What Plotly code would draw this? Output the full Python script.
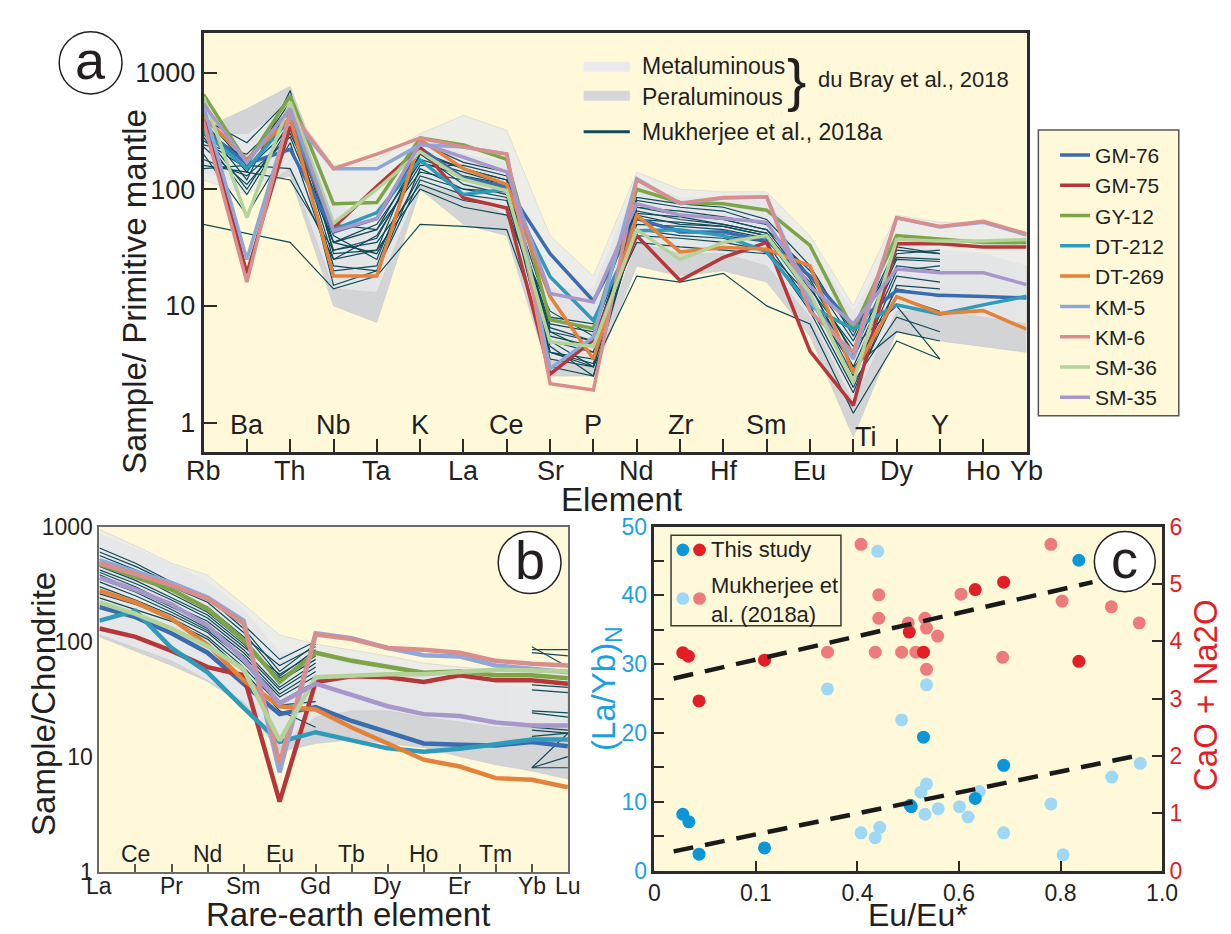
import plotly.graph_objects as go

W, H = 1231, 934
FONT = "Liberation Sans, Arial, sans-serif"
TXT = "#231F20"
BG = "#FFF9DA"

# ---------------- data: panel a (primitive-mantle normalised) ----------------
elements_a = ["Rb", "Ba", "Th", "Nb", "Ta", "K", "La", "Ce", "Sr", "P",
              "Nd", "Zr", "Hf", "Sm", "Eu", "Ti", "Dy", "Y", "Ho", "Yb"]
elements_a_top = ["Ba", "Nb", "K", "Ce", "P", "Zr", "Sm", "Ti", "Y"]

samples = ["GM-76", "GM-75", "GY-12", "DT-212", "DT-269", "KM-5", "KM-6", "SM-36", "SM-35"]
sample_colors = ["#3A6DB0", "#B5373A", "#7DA446", "#2F9BBA", "#E5823A",
                 "#8EA9D9", "#D98E8E", "#B3D39A", "#A797CB"]

a_GM76 = [330, 165, 220, 43, 56, 225, 125, 105, 28, 11, 56, 43, 43, 36, 18, 6.8, 13.5, 12.3, 12, 11.7]
a_GM75 = [470, 19, 345, 47, 106, 228, 84, 69, 2.6, 5.1, 40, 16.5, 26, 35, 4.1, 1.4, 34, 34, 32, 32]
a_GY12 = [650, 170, 630, 75, 77, 275, 240, 180, 7.6, 6.4, 100, 77, 75, 66, 33, 6.2, 40, 37.6, 35, 34.8]
a_DT212 = [310, 150, 400, 45, 63, 178, 90, 100, 17.8, 7.5, 44, 45, 40, 29, 10, 6.3, 10.2, 8.5, 10.2, 12.1]
a_DT269 = [420, 180, 406, 18, 18, 266, 150, 110, 12, 3.5, 60, 29, 31.6, 30.6, 22, 2.65, 12, 8.6, 9.1, 6.3]
a_KM5 = [520, 25, 430, 150, 150, 240, 230, 200, 2.9, 5.4, 123, 75, 84, 86, 11, 3.5, 57, 47.5, 52, 40.5]
a_KM6 = [380, 16, 470, 150, 200, 275, 230, 200, 2.15, 1.9, 120, 76, 85, 86, 9, 4, 57, 48, 53, 41.5]
a_SM36 = [620, 57, 560, 51, 100, 210, 121, 97, 4.9, 4.5, 45, 25, 35, 40, 12.8, 2.2, 37, 36, 36, 37]
a_SM35 = [540, 170, 490, 44, 56, 250, 188, 141, 12.8, 10.8, 75, 60, 56, 52, 14.7, 7, 20.7, 19.2, 19.2, 15.2]

# du Bray et al. (2018) fields, panel a
a_meta_hi = [300, 300, 520, 160, 180, 300, 430, 320, 40, 18, 140, 100, 95, 95, 40, 10, 60, 52, 52, 42]
a_meta_lo = [120, 90, 150, 14, 13, 110, 90, 60, 3.5, 3, 35, 28, 28, 22, 8, 1.5, 9, 9, 8, 7]
a_pera_hi = [330, 490, 760, 80, 45, 280, 200, 170, 14, 14, 110, 85, 85, 80, 30, 9, 35, 30, 28, 22]
a_pera_lo = [140, 110, 130, 10, 7.2, 100, 50, 40, 2.5, 2.5, 22, 18, 20, 16, 5.5, 0.75, 6, 5, 4.5, 4]

# Mukherjee et al. (2018a), Rb ... Y
a_muk = [
    [420, 160, 560, 35, 45, 200, 150, 120, 5, 4, 70, 60, 55, 45, 15, 3, 20, 22],
    [380, 140, 480, 30, 38, 180, 140, 110, 4, 3.5, 65, 55, 50, 42, 13, 2.5, 18, 16],
    [350, 120, 700, 28, 30, 230, 120, 100, 6, 5, 60, 50, 48, 40, 16, 4, 25, 24],
    [320, 180, 420, 25, 40, 160, 160, 130, 3.5, 3, 80, 70, 65, 50, 18, 5, 30, 28],
    [300, 100, 380, 40, 25, 200, 110, 90, 7, 6, 55, 45, 40, 35, 10, 2, 12, 9],
    [280, 90, 350, 22, 20, 150, 100, 85, 4.5, 2.5, 50, 48, 45, 38, 12, 3.5, 22, 20],
    [260, 150, 330, 35, 50, 170, 130, 110, 8, 7, 75, 60, 55, 45, 20, 6, 26, 25],
    [240, 200, 450, 15, 20, 120, 90, 80, 5, 3, 45, 40, 38, 30, 9, 1.8, 15, 14],
    [230, 110, 300, 50, 45, 140, 120, 100, 3, 2.5, 62, 58, 50, 42, 14, 4.5, 10, 3.5],
    [160, 140, 120, 30, 35, 110, 80, 70, 6, 4, 40, 38, 35, 30, 12, 2.2, 8, 6],
    [150, 160, 150, 25, 30, 100, 70, 60, 9, 5.5, 35, 32, 30, 28, 11, 3, 6, 5],
    [50, 42, 35, 14, 18, 50, 48, 45, 4, 3, 18, 16, 19, 10, 7, 1.2, 5, 3.5],
    [200, 60, 250, 20, 22, 210, 150, 120, 5.5, 4.5, 70, 65, 58, 50, 17, 3.8, 28, 30],
    [400, 250, 600, 45, 55, 250, 170, 140, 4, 3.2, 85, 75, 70, 55, 22, 5.5, 32, 28],
    [180, 130, 280, 35, 28, 130, 100, 95, 6.5, 5, 55, 52, 48, 40, 15, 2.8, 14, 12],
]

# ---------------- data: panel b (chondrite normalised REE) ----------------
ree_b = ["La", "Ce", "Pr", "Nd", "Sm", "Eu", "Gd", "Tb", "Dy", "Ho", "Er", "Tm", "Yb", "Lu"]
ree_b_top = ["Ce", "Nd", "Eu", "Tb", "Ho", "Tm"]

b_GM76 = [200, 163, 118, 80, 43, 23.4, 27, 20.4, 16.3, 13, 12.7, 12.5, 13.4, 12.3]
b_GM75 = [130, 110, 83, 60, 51, 4.06, 44.6, 50, 49, 44.6, 51, 46, 46, 43]
b_GY12 = [470, 366, 283, 192, 103, 44.6, 80, 68, 60, 53.5, 55, 51, 51, 48]
b_DT212 = [152, 185, 88, 54, 26.5, 13.4, 16.3, 13.8, 11.8, 11, 11.7, 12.8, 14.1, 14.1]
b_DT269 = [277, 219, 158, 94, 46, 27.4, 25.7, 17.9, 13, 9.4, 8.2, 6.5, 6.3, 5.4]
b_KM5 = [507, 404, 323, 242, 152, 7.3, 118, 107, 88, 76, 74, 62, 58.5, 54]
b_KM6 = [480, 390, 310, 235, 145, 8.8, 115, 105, 88, 85, 80, 68, 64, 62]
b_SM36 = [219, 174, 130, 91, 57.6, 13.8, 49, 51, 52, 52, 54, 57, 56, 55]
b_SM35 = [359, 283, 211, 138, 70, 29, 43, 34.5, 27.4, 23.4, 22.5, 19.8, 18.6, 18.6]

b_meta_hi = [945, 680, 480, 378, 211, 114, 95, 85, 75, 65, 60, 57, 55, 55]
b_meta_lo = [114, 88, 68, 46, 30, 12.2, 22, 25, 25, 22, 20, 18, 18, 18]
b_pera_hi = [860, 640, 470, 330, 190, 80, 80, 72, 62, 52, 46, 42, 40, 38]
b_pera_lo = [110, 82, 62, 45, 28, 11, 13, 14, 13, 12, 10, 8.5, 7.5, 6.4]

N = None
b_muk = [
    [650, 480, 330, 240, 130, 55, 95, N, N, N, N, N, 85, 85],
    [560, 420, 300, 220, 120, 50, 85, N, N, N, N, N, 80, 75],
    [520, 400, 280, 200, 110, 62, 90, N, N, N, N, N, 45, 42],
    [480, 380, 260, 180, 100, 48, 75, N, N, N, N, N, 42, 40],
    [450, 340, 240, 170, 95, 45, 70, N, N, N, N, N, 38, 36],
    [420, 320, 230, 160, 90, 52, 80, N, N, N, N, N, 25, 24],
    [400, 300, 210, 150, 85, 40, 65, N, N, N, N, N, 24, 22],
    [380, 280, 200, 140, 80, 38, 60, N, N, N, N, N, 18, 17],
    [350, 270, 190, 130, 75, 35, 55, N, N, N, N, N, 17, 16],
    [330, 250, 180, 125, 70, 33, 50, N, N, N, N, N, 15, 16],
    [300, 230, 170, 120, 65, 30, 45, N, N, N, N, N, 8, 16],
    [260, 210, 160, 110, 60, 28, 30, N, N, N, N, N, 8, 10],
    [240, 190, 150, 105, 55, 25, 18, N, N, N, N, N, 8, 8],
    [600, 450, 320, 230, 140, 70, 100, N, N, N, N, N, 90, 60],
]

# ---------------- data: panel c ----------------
c_study_eu = [0.056, 0.068, 0.088, 0.217, 0.504, 0.506, 0.530, 0.632, 0.688, 0.836]
c_study_layb = [8.2, 7.1, 2.4, 3.3, 9.5, 9.3, 19.4, 10.5, 15.3, 45.1]
c_muk_eu = [0.440, 0.341, 0.487, 0.407, 0.435, 0.444, 0.525, 0.536, 0.536, 0.533,
            0.559, 0.601, 0.618, 0.640, 0.688, 0.781, 0.805, 0.901, 0.957]
c_muk_layb = [46.4, 26.4, 21.9, 5.5, 4.8, 6.3, 11.4, 27.0, 12.6, 8.2,
              9.0, 9.3, 7.8, 11.5, 5.5, 9.7, 2.3, 13.6, 15.6]
c_study_eu2 = [0.056, 0.067, 0.088, 0.217, 0.502, 0.530, 0.632, 0.688, 0.836]
c_study_cana = [3.80, 3.74, 2.96, 3.67, 4.16, 3.81, 4.90, 5.03, 3.65]
c_muk_eu2 = [0.407, 0.442, 0.442, 0.341, 0.435, 0.487, 0.500, 0.515, 0.533, 0.536,
             0.558, 0.536, 0.604, 0.686, 0.781, 0.803, 0.900, 0.955]
c_muk_cana = [5.69, 4.81, 4.40, 3.81, 3.81, 3.81, 4.32, 3.81, 4.40, 4.23,
              4.09, 3.51, 4.82, 3.72, 5.69, 4.70, 4.60, 4.32]
fit_cana_x = [0.038, 0.863]
fit_cana_y = [3.35, 5.03]
fit_layb_x = [0.038, 0.957]
fit_layb_y = [2.8, 16.8]

c_xticks = [0, 0.2, 0.4, 0.6, 0.8, 1.0]
c_xticktext = ["0", "0.1", "0.4", "0.6", "0.8", "1.0"]

# ---------------- helpers ----------------
def px(x):
    return x / W


def py(y):
    return 1 - y / H


def ann(text, x, y, size, color=TXT, xanchor="center", yanchor="middle", angle=0, **kw):
    d = dict(text=text, x=px(x), y=py(y), xref="paper", yref="paper", showarrow=False,
             xanchor=xanchor, yanchor=yanchor, textangle=angle,
             font=dict(family=FONT, size=size, color=color))
    d.update(kw)
    return d


fig = go.Figure()

MUK = "#0E4A58"
META = "#E9EAEC"
PERA = "#D3D4D5"


def band(xs, hi, lo, color, xa, ya, opacity=1.0):
    fig.add_trace(go.Scatter(
        x=list(xs) + list(xs)[::-1], y=list(hi) + list(lo)[::-1],
        fill="toself", fillcolor=color, mode="lines",
        line=dict(color="#C6C7C8", width=0.6), opacity=opacity,
        hoverinfo="skip", showlegend=False, xaxis=xa, yaxis=ya))


# ---- panel a ----
xa_idx = list(range(len(elements_a)))
band(xa_idx, a_pera_hi, a_pera_lo, PERA, "x", "y")
band(xa_idx, a_meta_hi, a_meta_lo, META, "x", "y", opacity=0.8)
for row in a_muk:
    fig.add_trace(go.Scatter(x=xa_idx[:len(row)], y=row, mode="lines",
                             line=dict(color=MUK, width=1.2), showlegend=False,
                             hoverinfo="skip", xaxis="x", yaxis="y"))
a_series = [a_GM76, a_GM75, a_GY12, a_DT212, a_DT269, a_KM5, a_KM6, a_SM36, a_SM35]
for name, col, vals in zip(samples, sample_colors, a_series):
    fig.add_trace(go.Scatter(x=xa_idx, y=vals, mode="lines", name=name,
                             line=dict(color=col, width=3.5), xaxis="x", yaxis="y",
                             showlegend=True))

# ---- panel b ----
xb_idx = list(range(len(ree_b)))
band(xb_idx, b_pera_hi, b_pera_lo, PERA, "x2", "y2")
band(xb_idx, b_meta_hi, b_meta_lo, META, "x2", "y2", opacity=0.85)
for row in b_muk:
    fig.add_trace(go.Scatter(x=xb_idx, y=row, mode="lines", connectgaps=False,
                             line=dict(color=MUK, width=1.2), showlegend=False,
                             hoverinfo="skip", xaxis="x2", yaxis="y2"))
b_series = [b_GM76, b_GM75, b_GY12, b_DT212, b_DT269, b_KM5, b_KM6, b_SM36, b_SM35]
for name, col, vals in zip(samples, sample_colors, b_series):
    fig.add_trace(go.Scatter(x=xb_idx, y=vals, mode="lines", name=name,
                             line=dict(color=col, width=4.5), xaxis="x2", yaxis="y2",
                             showlegend=False))

# ---- panel c ----
DBLUE, LBLUE, DRED, LRED = "#0A96D9", "#9FD8F4", "#E31E26", "#EE7B7C"
fig.add_trace(go.Scatter(x=c_muk_eu2, y=c_muk_cana, mode="markers",
                         marker=dict(color=LRED, size=13), showlegend=False,
                         xaxis="x3", yaxis="y4"))
fig.add_trace(go.Scatter(x=c_study_eu2, y=c_study_cana, mode="markers",
                         marker=dict(color=DRED, size=13), showlegend=False,
                         xaxis="x3", yaxis="y4"))
fig.add_trace(go.Scatter(x=c_muk_eu, y=c_muk_layb, mode="markers",
                         marker=dict(color=LBLUE, size=13), showlegend=False,
                         xaxis="x3", yaxis="y3"))
fig.add_trace(go.Scatter(x=c_study_eu, y=c_study_layb, mode="markers",
                         marker=dict(color=DBLUE, size=13), showlegend=False,
                         xaxis="x3", yaxis="y3"))
fig.add_trace(go.Scatter(x=fit_cana_x, y=fit_cana_y, mode="lines",
                         line=dict(color="#1A1A1A", width=4.5, dash="20px,12px"),
                         showlegend=False, xaxis="x3", yaxis="y4"))
fig.add_trace(go.Scatter(x=fit_layb_x, y=fit_layb_y, mode="lines",
                         line=dict(color="#1A1A1A", width=4.5, dash="20px,12px"),
                         showlegend=False, xaxis="x3", yaxis="y3"))

# ---------------- axes ----------------
FRAME = "#2B2B2B"
axfont = dict(family=FONT, size=27, color=TXT)
fig.update_layout(
    xaxis=dict(domain=[px(193), px(1031)], anchor="y", range=[0, 19],
               tickvals=xa_idx, showticklabels=False, ticks="inside", ticklen=13,
               tickcolor=FRAME, tickwidth=1.5, showgrid=False, zeroline=False,
               showline=True, linecolor=FRAME, linewidth=2.5, mirror=True),
    yaxis=dict(domain=[py(443), py(12)], anchor="x", type="log", range=[-0.25, 3.342],
               tickvals=[1, 10, 100, 1000], ticktext=["1", "10", "100", "1000"],
               ticks="inside", ticklen=14, tickcolor=FRAME, tickwidth=1.5,
               tickfont=axfont, showgrid=False, zeroline=False,
               showline=True, linecolor=FRAME, linewidth=2.5, mirror=True),
    xaxis2=dict(domain=[px(87), px(564)], anchor="y2", range=[0, 13],
                tickvals=xb_idx, showticklabels=False, ticks="inside", ticklen=8,
                tickcolor="#555", tickwidth=1.5, showgrid=False, zeroline=False,
                showline=True, linecolor="#6A6A6A", linewidth=2, mirror=True),
    yaxis2=dict(domain=[py(875), py(520)], anchor="x2", type="log", range=[0, 3],
                tickvals=[1, 10, 100, 1000], ticktext=["1", "10", "100", "1000"],
                ticks="", tickfont=dict(family=FONT, size=23, color=TXT),
                showgrid=False, zeroline=False,
                showline=True, linecolor="#6A6A6A", linewidth=2, mirror=True),
    xaxis3=dict(domain=[px(652), px(1169)], anchor="y3", range=[0, 1],
                tickvals=c_xticks, ticktext=c_xticktext, ticks="inside", ticklen=10,
                tickcolor=FRAME, tickwidth=1.5,
                tickfont=dict(family=FONT, size=23, color=TXT),
                showgrid=False, zeroline=False,
                showline=True, linecolor=FRAME, linewidth=2.5, mirror=True),
    yaxis3=dict(domain=[py(874), py(520)], anchor="x3", range=[0, 50],
                tickvals=[0, 10, 20, 30, 40, 50],
                ticks="inside", ticklen=10, tickcolor=FRAME, tickwidth=1.5,
                minor=dict(tickvals=[5, 15, 25, 35, 45], ticks="inside", ticklen=10,
                           tickcolor=FRAME, tickwidth=1.5, showgrid=False),
                tickfont=dict(family=FONT, size=23, color="#1BA1E2"),
                showgrid=False, zeroline=False,
                showline=True, linecolor=FRAME, linewidth=2.5),
    yaxis4=dict(overlaying="y3", anchor="x3", side="right", range=[0, 6],
                tickvals=list(range(0, 7)), ticks="inside", ticklen=10,
                tickcolor=FRAME, tickwidth=1.5,
                tickfont=dict(family=FONT, size=23, color="#E31E26"),
                showgrid=False, zeroline=False,
                showline=True, linecolor=FRAME, linewidth=2.5),
)

# ---------------- annotations ----------------
anns = []
# panel a element labels (alternating inside / below)
for i, el in enumerate(elements_a):
    if el in elements_a_top:
        d = dict(text=el, x=i, y=py(416), xref="x", yref="paper", showarrow=False,
                 font=dict(family=FONT, size=27, color=TXT), yanchor="middle")
        if el == "Ti":
            d.update(xshift=13, y=py(428))
        anns.append(d)
    else:
        anns.append(dict(text=el, x=i, y=py(463), xref="x", yref="paper", showarrow=False,
                         font=dict(family=FONT, size=27, color=TXT), yanchor="middle"))
# panel b REE labels
for i, el in enumerate(ree_b):
    yy = 857 if el in ree_b_top else 890
    anns.append(dict(text=el, x=i, y=py(yy), xref="x2", yref="paper", showarrow=False,
                     font=dict(family=FONT, size=23, color=TXT), yanchor="middle"))

anns += [
    ann("Sample/ Primitive mantle", 122, 278, 33, angle=-90),
    ann("Element", 619, 492, 33),
    ann("Sample/Chondrite", 30, 702, 33, angle=-90),
    ann("Rare-earth element", 340, 919, 33),
    ann("Eu/Eu*", 920, 920, 32),
    ann("(La/Yb)<sub>N</sub>", 603, 687, 33, color="#1BA1E2", angle=-90),
    ann("CaO + Na2O", 1213, 693, 33, color="#E31E26", angle=-90),
    # panel a inner legend
    ann("Metaluminous", 637, 46, 23, xanchor="left"),
    ann("Peraluminous", 637, 78, 23, xanchor="left"),
    ann("Mukherjee et al., 2018a", 637, 114, 23, xanchor="left"),
    ann("}", 797, 60, 58),
    ann("du Bray et al., 2018", 817, 60, 22, xanchor="left"),
    # panel c legend
    ann("This study", 708, 544, 22, xanchor="left"),
    ann("Mukherjee et<br>al. (2018a)", 708, 596, 22, xanchor="left", align="left"),
    # panel letters
    ann("a", 78, 40, 54),
    ann("b", 525, 554, 54),
    ann("c", 1131, 553, 54),
]

# ---------------- shapes ----------------
shapes = []


def circle(cx, cy, r):
    shapes.append(dict(type="circle", xref="paper", yref="paper",
                       x0=px(cx - r), x1=px(cx + r), y0=py(cy + r), y1=py(cy - r),
                       line=dict(color="#231F20", width=1.5), fillcolor="white"))


circle(78, 43, 32)
circle(525, 557, 32)
circle(1131, 556, 31)

# panel a inner legend swatches
for yy, col, w in [(47, "#E9EAEC", 10), (77, "#D6D7D8", 10), (114, MUK, 3)]:
    shapes.append(dict(type="line", xref="paper", yref="paper",
                       x0=px(580), x1=px(627), y0=py(yy), y1=py(yy),
                       line=dict(color=col, width=w)))

# sample legend box (panel a, right)
shapes.append(dict(type="rect", xref="paper", yref="paper",
                   x0=px(1043), x1=px(1186), y0=py(406), y1=py(112),
                   line=dict(color="#555555", width=1.5), fillcolor=BG))

# panel c legend box + glyphs
shapes.append(dict(type="rect", xref="paper", yref="paper",
                   x0=px(669), x1=px(842), y0=py(622), y1=py(529),
                   line=dict(color="#3A3A3A", width=1.5), fillcolor=BG))
for cx, cy, col in [(681, 544, DBLUE), (698, 544, DRED), (681, 594, LBLUE), (698, 594, LRED)]:
    shapes.append(dict(type="circle", xref="paper", yref="paper",
                       x0=px(cx - 6.5), x1=px(cx + 6.5), y0=py(cy + 6.5), y1=py(cy - 6.5),
                       line=dict(width=0), fillcolor=col))

fig.update_layout(
    width=W, height=H, margin=dict(l=0, r=0, t=0, b=0),
    paper_bgcolor="white", plot_bgcolor=BG,
    font=dict(family=FONT, color=TXT),
    annotations=anns, shapes=shapes,
    legend=dict(x=px(1060), y=py(117), xanchor="left", yanchor="top",
                bgcolor="rgba(0,0,0,0)", borderwidth=0,
                font=dict(family=FONT, size=21, color=TXT),
                itemwidth=30, tracegroupgap=0),
)

fig.write_html("out.html")
